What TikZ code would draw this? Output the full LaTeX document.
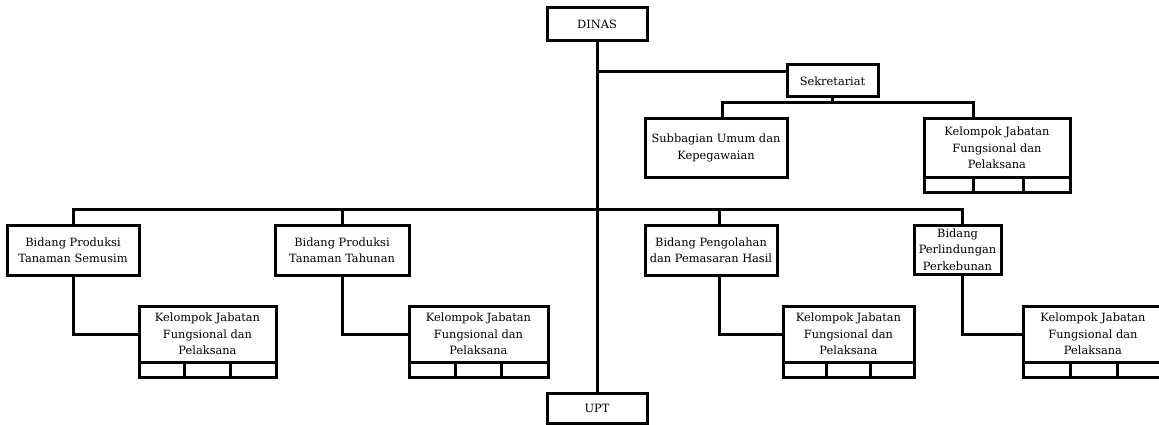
\documentclass[tikz,border=0pt]{standalone}
\usepackage{fontspec}
\setmainfont{DejaVu Serif}
\begin{document}
\begin{tikzpicture}[x=1pt,y=-1pt,
  box/.style={draw, line width=3pt, inner sep=0pt, align=center,
    font=\fontsize{11.4}{16.5}\selectfont},
  cell/.style={draw, line width=3pt, inner sep=0pt, minimum height=15pt},
  conn/.style={line width=3pt}]
\useasboundingbox (0,0) rectangle (1159,425);
\clip (0,0) rectangle (1159,425);
% top
\node[box, minimum width=100pt, minimum height=33pt] (dinas) at (597,24.5) {DINAS};
\node[box, minimum width=100pt, minimum height=30pt] (upt) at (597,408) {UPT};
\node[box, minimum width=91pt, minimum height=32pt] (sek) at (832.5,81) {Sekretariat};
\node[box, minimum width=142pt, minimum height=58pt] (sub) at (716,148) {Subbagian Umum dan\\Kepegawaian};
\node[box, minimum width=146pt, minimum height=58pt] (kt) at (997,148) {Kelompok Jabatan\\Fungsional dan\\Pelaksana};
\node[cell, minimum width=49pt] (kta) at (948.5,184.5) {};
\node[cell, minimum width=50pt] (ktb) at (998,184.5) {};
\node[cell, minimum width=47pt] (ktc) at (1046.5,184.5) {};
% bidang
\node[box, minimum width=132pt, minimum height=50pt] (b1) at (73,250) {Bidang Produksi\\Tanaman Semusim};
\node[box, minimum width=134pt, minimum height=50pt] (b2) at (342,250) {Bidang Produksi\\Tanaman Tahunan};
\node[box, minimum width=132pt, minimum height=50pt] (b3) at (711,250) {Bidang Pengolahan\\dan Pemasaran Hasil};
\node[box, minimum width=87pt, minimum height=49pt] (b4) at (957.5,249.5) {Bidang\\Perlindungan\\Perkebunan};
% kelompok
\node[box, minimum width=137pt, minimum height=56pt] (k1) at (207.5,334) {Kelompok Jabatan\\Fungsional dan\\Pelaksana};
\node[cell, minimum width=45pt] (k1a) at (161.5,369.5) {};
\node[cell, minimum width=46pt] (k1b) at (207,369.5) {};
\node[cell, minimum width=46pt] (k1c) at (253,369.5) {};
\node[box, minimum width=139pt, minimum height=56pt] (k2) at (478.5,334) {Kelompok Jabatan\\Fungsional dan\\Pelaksana};
\node[cell, minimum width=46pt] (k2a) at (432,369.5) {};
\node[cell, minimum width=46pt] (k2b) at (478,369.5) {};
\node[cell, minimum width=47pt] (k2c) at (524.5,369.5) {};
\node[box, minimum width=131pt, minimum height=56pt] (k3) at (848.5,334) {Kelompok Jabatan\\Fungsional dan\\Pelaksana};
\node[cell, minimum width=43pt] (k3a) at (804.5,369.5) {};
\node[cell, minimum width=44pt] (k3b) at (848,369.5) {};
\node[cell, minimum width=44pt] (k3c) at (892,369.5) {};
\node[box, minimum width=140pt, minimum height=56pt] (k4) at (1093,334) {Kelompok Jabatan\\Fungsional dan\\Pelaksana};
\node[cell, minimum width=47pt] (k4a) at (1046.5,369.5) {};
\node[cell, minimum width=47pt] (k4b) at (1093.5,369.5) {};
\node[cell, minimum width=46pt] (k4c) at (1140,369.5) {};
% connectors
\draw[conn] (dinas.south) -- (upt.north);
\coordinate (j1) at (597,72);
\draw[conn] (j1) -- (j1 -| sek.west);
\coordinate (s1) at (722,103);
\coordinate (s2) at (973,103);
\draw[conn] (sek.south) -- (sek.south |- s1);
\draw[conn] (s1 |- sub.north) -- (s1) -- (s2) -- (s2 |- kt.north);
\coordinate (m1) at (73,209);
\coordinate (m2) at (342,209);
\coordinate (m3) at (719,209);
\coordinate (m4) at (962,209);
\draw[conn] (b1.north) -- (m1) -- (m4) -- (m4 |- b4.north);
\draw[conn] (m2) -- (b2.north);
\draw[conn] (m3) -- (m3 |- b3.north);
\draw[conn] (b1.south) -- (b1.south |- k1.west) -- (k1.west);
\draw[conn] (b2.south) -- (b2.south |- k2.west) -- (k2.west);
\draw[conn] (m3 |- b3.south) -- (m3 |- k3.west) -- (k3.west);
\draw[conn] (m4 |- b4.south) -- (m4 |- k4.west) -- (k4.west);
\end{tikzpicture}
\end{document}
